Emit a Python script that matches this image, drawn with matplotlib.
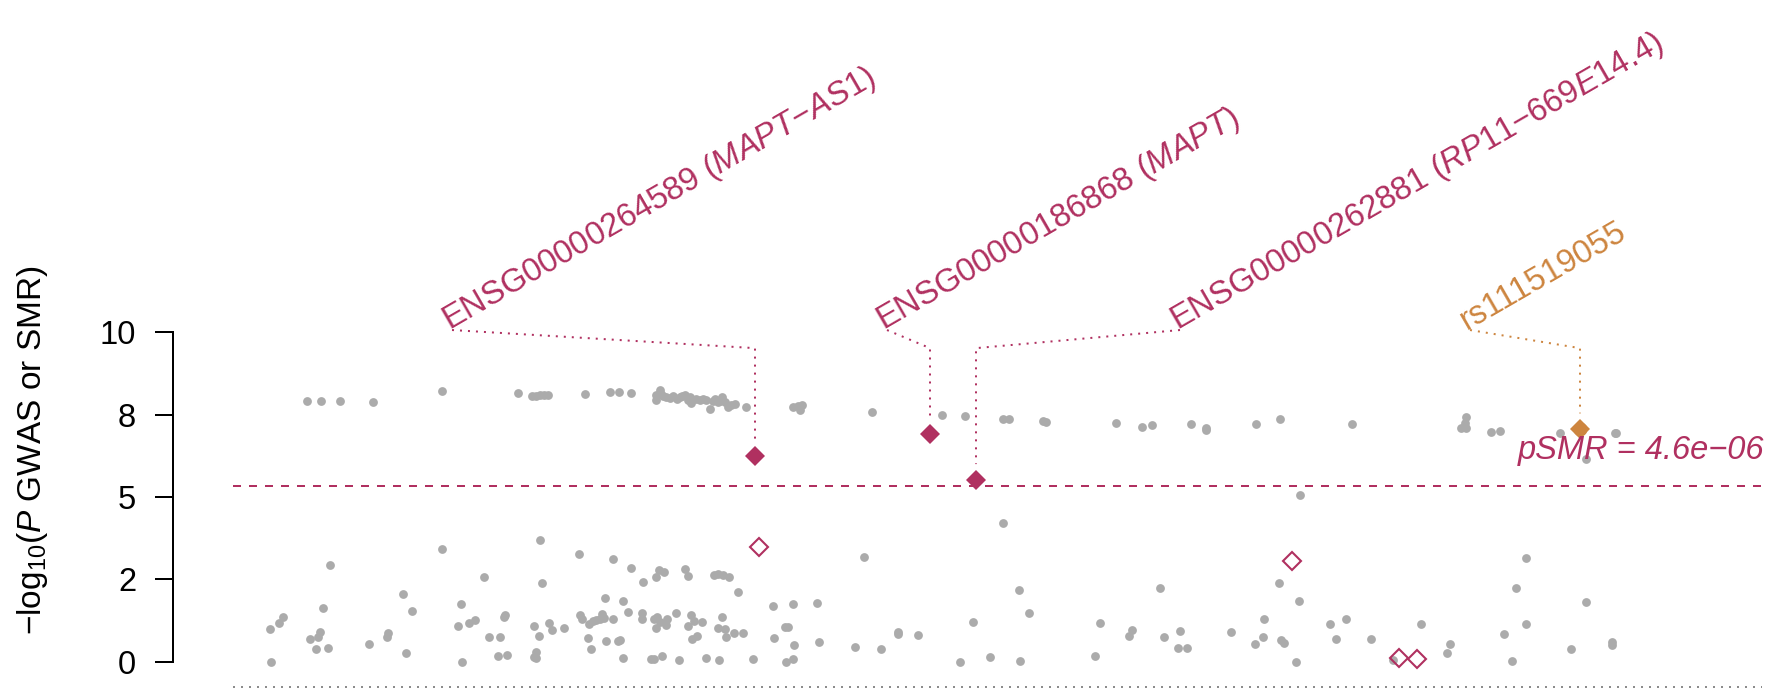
import matplotlib
matplotlib.use('Agg')
from matplotlib import pyplot as plt

plt.rcParams['font.family'] = 'Liberation Sans'
plt.rcParams['mathtext.fontset'] = 'custom'
plt.rcParams['mathtext.rm'] = 'Liberation Sans'
plt.rcParams['mathtext.it'] = 'Liberation Sans:italic'

maroon = '#B03060'
peru = '#CD853F'
grey = '#ABABAB'

# GWAS SNPs: position along the locus (plot units) and -log10(P)
gwas_pos = [307, 321, 340, 373, 442, 518, 532, 536, 540, 544, 548, 585, 610, 619, 631,
            656, 660, 656, 663, 666, 673, 680, 685, 690, 691, 696, 703, 706, 710, 713,
            718, 722, 725, 728, 731, 735, 746, 661, 670, 677, 682, 688, 700, 715, 720,
            793, 798, 802, 800, 872, 942, 965, 1003, 1009, 1043, 1046, 1116, 1142, 1152,
            1191, 1206, 1206, 1256, 1280, 1352, 1466, 1465, 1461, 1466, 1491, 1500, 1560,
            1615, 1616, 1586,
            330, 442, 540, 579, 613, 631, 643, 656, 659, 664, 685, 688, 714, 718, 723,
            729, 738, 484, 542, 403, 461, 323, 412, 605, 623, 628, 642, 676, 722, 270,
            279, 283, 310, 318, 320, 316, 328, 271, 369, 387, 388, 406, 458, 469, 475,
            489, 500, 462, 498, 507, 504, 505, 534, 539, 549, 552, 564, 536, 534, 536,
            580, 582, 589, 593, 596, 600, 602, 604, 613, 588, 591, 606, 618, 620, 623,
            642, 654, 657, 656, 660, 667, 666, 691, 694, 688, 702, 692, 697, 651, 654,
            662, 679, 706, 719, 718, 725, 726, 734, 743,
            1003, 864, 1019, 1029, 1160, 773, 793, 817, 774, 785, 788, 794, 819, 753,
            786, 793, 855, 881, 898, 898, 918, 973, 990, 960, 1020, 1100, 1132, 1129,
            1164, 1180, 1178, 1187, 1095, 1231, 1255,
            1300, 1526, 1279, 1299, 1516, 1586, 1264, 1330, 1346, 1421, 1526, 1504, 1263,
            1281, 1284, 1336, 1371, 1450, 1447, 1296, 1393, 1512, 1571, 1612, 1612]
gwas_logp = [7.91, 7.93, 7.91, 7.89, 8.22, 8.15, 8.07, 8.08, 8.09, 8.10, 8.09, 8.14, 8.19, 8.19, 8.17,
             8.10, 8.25, 7.94, 8.07, 8.05, 8.07, 8.05, 8.10, 8.03, 7.86, 7.99, 7.99, 7.94, 7.66, 7.92,
             7.89, 8.05, 7.89, 7.74, 7.79, 7.82, 7.74, 8.12, 8.02, 7.98, 8.08, 7.96, 7.95, 7.97, 7.93,
             7.74, 7.76, 7.78, 7.64, 7.57, 7.50, 7.46, 7.38, 7.38, 7.32, 7.29, 7.24, 7.12, 7.18,
             7.21, 7.09, 7.03, 7.22, 7.38, 7.21, 7.42, 7.24, 7.10, 7.10, 6.97, 6.99, 6.93,
             6.95, 6.93, 6.16,
             2.93, 3.41, 3.71, 3.26, 3.11, 2.83, 2.43, 2.56, 2.77, 2.72, 2.81, 2.60, 2.62, 2.67, 2.62,
             2.56, 2.12, 2.56, 2.40, 2.06, 1.74, 1.62, 1.54, 1.93, 1.83, 1.51, 1.49, 1.49, 1.35, 1.00,
             1.18, 1.36, 0.70, 0.75, 0.91, 0.38, 0.43, 0.00, 0.54, 0.76, 0.86, 0.27, 1.09, 1.17, 1.26,
             0.74, 0.76, 0.00, 0.17, 0.20, 1.35, 1.42, 1.09, 0.78, 1.17, 0.96, 1.03, 0.30, 0.13, 0.12,
             1.41, 1.30, 1.14, 1.25, 1.27, 1.29, 1.44, 1.32, 1.29, 0.71, 0.39, 0.64, 0.63, 0.66, 0.11,
             1.29, 1.29, 1.37, 1.01, 1.20, 1.31, 1.11, 1.41, 1.25, 1.08, 1.22, 0.68, 0.79, 0.09, 0.09,
             0.18, 0.06, 0.11, 0.04, 1.02, 1.00, 0.76, 0.88, 0.86,
             4.22, 3.18, 2.19, 1.47, 2.23, 1.69, 1.74, 1.79, 0.72, 1.06, 1.04, 0.52, 0.59, 0.07,
             0.00, 0.07, 0.44, 0.40, 0.91, 0.83, 0.80, 1.20, 0.15, 0.00, 0.02, 1.18, 0.97, 0.78,
             0.76, 0.92, 0.41, 0.41, 0.18, 0.91, 0.53,
             5.07, 3.14, 2.40, 1.85, 2.23, 1.81, 1.29, 1.15, 1.31, 1.13, 1.15, 0.85, 0.74,
             0.66, 0.56, 0.70, 0.70, 0.55, 0.27, 0.00, 0.05, 0.03, 0.38, 0.59, 0.51]

# SMR probes (diamonds): filled = pass threshold, open = not
probe_pos = [755, 930, 976, 759, 1292, 1399, 1417]
probe_logp = [6.24, 6.91, 5.53, 3.47, 3.05, 0.11, 0.09]
probe_sig = [True, True, True, False, False, False, False]

# labelled probes / top SNP
label_text = [r'ENSG00000264589 $\mathit{(MAPT{-}AS1)}$',
              r'ENSG00000186868 $\mathit{(MAPT)}$',
              r'ENSG00000262881 $\mathit{(RP11{-}669E14.4)}$',
              'rs111519055']
label_pos = [452, 887, 1180, 1470]
label_target = [755, 930, 976, 1580]
label_target_logp = [6.24, 6.91, 5.53, 7.07]
label_color = [maroon, maroon, maroon, peru]

top_snp_pos = 1580
top_snp_logp = 7.07
smr_threshold = 5.33
psmr_text = 'pSMR = 4.6e\u221206'

ytick_vals = [0, 2.5, 5, 7.5, 10]
ytick_labels = ['0', '2', '5', '8', '10']

fig = plt.figure(figsize=(17.87, 6.92), dpi=100)
ax = fig.add_axes([233 / 1787, 0, (1762 - 233) / 1787, 1])
ax.set_xlim(233, 1762)
ax.set_ylim(-0.92, 20.09)

ax.axhline(smr_threshold, color=maroon, lw=1.44, ls=(0, (4, 4)))
ax.axhline(-0.76, color='#8c8c8c', lw=1.44, ls=(0, (1, 3)))

ax.scatter(gwas_pos, gwas_logp, s=40, color=grey, lw=0, zorder=2)

for x, y, sig in zip(probe_pos, probe_logp, probe_sig):
    if sig:
        ax.plot(x, y, 'D', ms=10.5, color=maroon, mec=maroon, mew=0, zorder=3)
    else:
        ax.plot(x, y, 'D', ms=9.5, mfc='none', mec=maroon, mew=1.5, zorder=3)

ax.plot(top_snp_pos, top_snp_logp, 'D', ms=10.5, color=peru, mew=0, zorder=3)
ax.plot(top_snp_pos, top_snp_logp, 'o', ms=10, color=peru, mew=0, zorder=3)

for txt, lx, tx, ty, col in zip(label_text, label_pos, label_target, label_target_logp, label_color):
    ax.plot([lx, tx, tx], [10.07, 9.52, ty + 0.47], color=col, lw=1.44,
            ls=(0, (1, 3)), clip_on=False)
    ax.text(lx - 3, 10.07, txt, rotation=30, rotation_mode='anchor', ha='left',
            va='baseline', fontsize=23.5, color=col)

ax.text(1764, 6.14, psmr_text, ha='right', va='baseline', fontsize=23.5,
        fontstyle='italic', color=maroon)

for side in ['top', 'right', 'bottom']:
    ax.spines[side].set_visible(False)
ax.spines['left'].set_position(('outward', 43))
ax.spines['left'].set_bounds(0, 10)
ax.spines['left'].set_linewidth(1.44)
ax.set_xticks([])
ax.set_yticks(ytick_vals)
ax.set_yticklabels(ytick_labels)
ax.tick_params(axis='y', length=13.2, width=1.44, pad=13.5, labelsize=23.5)

fig.text(33 / 1787, 1 - 450 / 692, r'$-\mathrm{log}_{10}$($P$ GWAS or SMR)',
         rotation=90, ha='center', va='center', fontsize=24)

plt.savefig('out.png', dpi=100)
